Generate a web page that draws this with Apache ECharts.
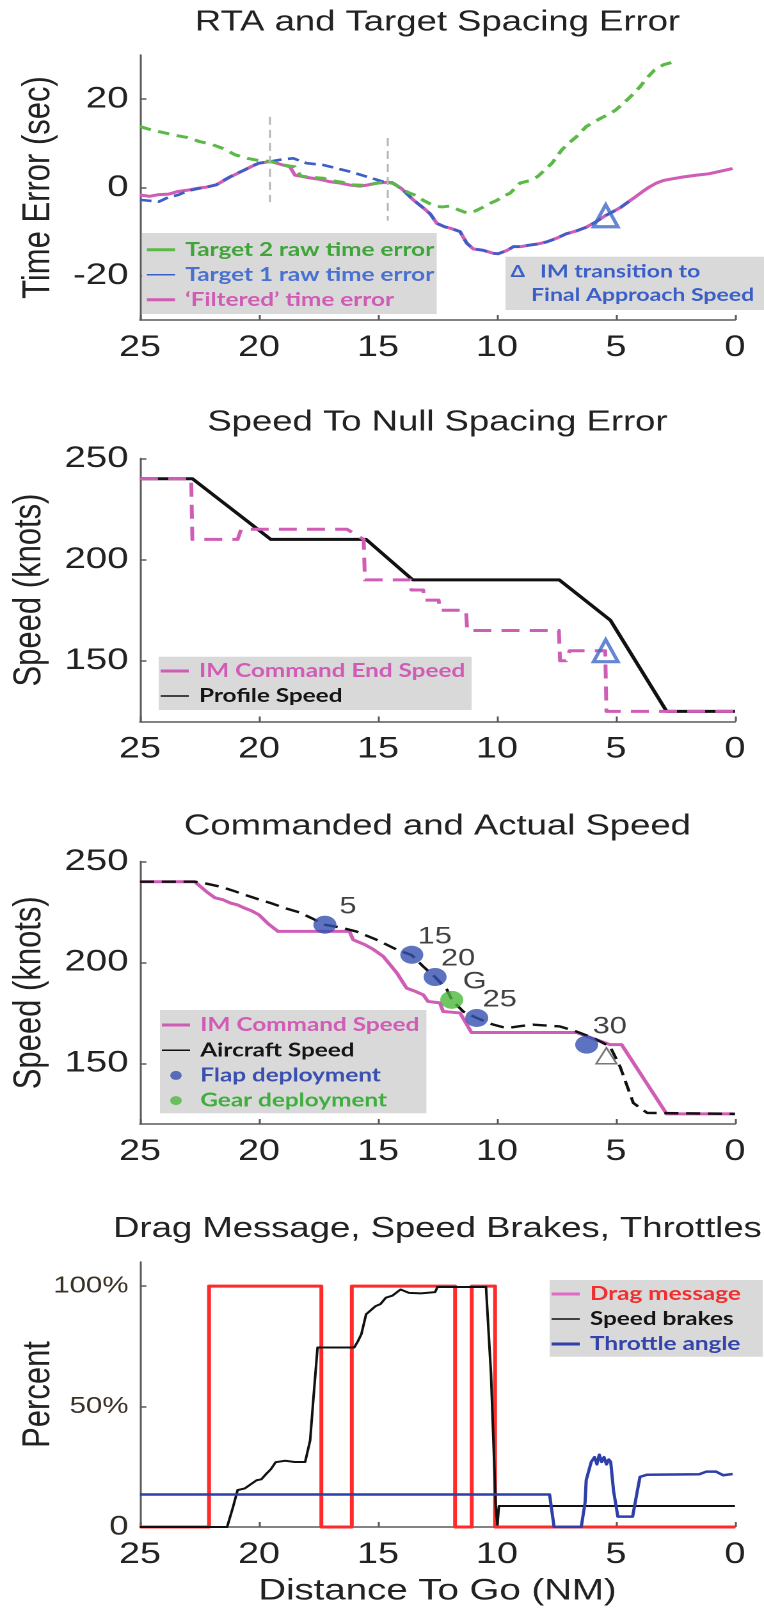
<!DOCTYPE html>
<html>
<head>
<meta charset="utf-8">
<script src="https://cdn.jsdelivr.net/npm/echarts@6/dist/echarts.min.js"></script>
<style>
html, body { margin: 0; padding: 0; background: #fff; overflow: hidden; }
#frame { width: 764px; height: 1613px; overflow: hidden; }
/* the figure is laid out narrow and widened horizontally, like the original exported plot */
#chart { width: 597px; height: 1613px; transform: scaleX(1.2797); transform-origin: 0 0; }
</style>
</head>
<body>
<div id="frame"><div id="chart"></div></div>
<script>
// ---------- data: [distance to go (NM), value] ----------
const distanceTicks = [0, 5, 10, 15, 20, 25];

// Panel 1: RTA and target spacing error (sec)
const target2RawError = [
  [25,13.8],[24.5,13.0],[24.0,12.4],[23.5,11.8],[23.0,11.3],[22.5,10.4],[22.0,9.8],[21.5,8.8],
  [21.0,7.4],[20.5,6.6],[20.0,6.1],[19.5,5.9],[19.0,5.1],[18.5,4.7],[18.25,2.6],[17.8,2.3],
  [17.3,2.1],[16.9,1.5],[16.5,1.2],[16.2,0.6],[15.6,0.5],[15.2,0.8],[14.9,1.1],[14.6,1.2],
  [14.3,0.8],[14.0,-0.4],[13.7,-1.2],[13.4,-1.8],[13.1,-2.9],[12.8,-3.7],[12.5,-4.3],[12.3,-4.4],
  [12.0,-4.2],[11.8,-4.6],[11.6,-5.1],[11.4,-5.5],[11.2,-5.8],[10.9,-5.3],[10.6,-4.5],[10.3,-3.6],
  [10.0,-2.9],[9.75,-2.0],[9.45,-1.3],[9.03,1.0],[8.6,1.6],[8.3,2.45],[8.0,3.9],[7.69,5.5],
  [7.28,8.5],[6.95,10.2],[6.66,11.5],[6.25,13.8],[5.9,14.9],[5.63,15.7],[5.3,16.6],[5.02,17.5],
  [4.7,19.0],[4.4,20.5],[3.99,22.8],[3.7,24.8],[3.38,26.6],[3.0,27.8],[2.66,28.3]
];
const target1RawError = [
  [25,-2.8],[24.6,-3.0],[24.2,-3.2],[23.8,-2.2],[23.4,-1.7],[23.0,-0.8],[22.6,-0.3],[22.2,0.1],
  [21.8,0.6],[21.5,1.6],[21.2,2.5],[20.9,3.3],[20.6,4.0],[20.3,4.9],[20.0,5.5],[19.5,5.9],
  [19.0,6.4],[18.56,6.6],[18.0,5.5],[17.3,5.1],[16.74,4.35],[16.18,3.6],[15.47,2.45],[14.78,1.3],
  [14.4,1.0],[14.0,-0.3],[13.52,-2.8],[13.1,-4.6],[12.8,-6.0],[12.53,-8.1],[12.2,-8.9],[11.97,-9.2],
  [11.55,-10.0],[11.4,-11.4],[11.27,-12.6],[11.0,-13.9],[10.6,-14.2],[10.15,-14.9],[9.95,-15.0],
  [9.6,-14.3],[9.31,-13.4],[9.0,-13.4],[8.7,-13.1],[8.3,-12.8],[7.9,-12.3],[7.5,-11.5],[7.1,-10.5],
  [6.7,-9.9],[6.25,-9.0],[5.85,-7.8],[5.45,-6.4],[5.1,-5.4],[4.8,-4.5],[4.4,-3.0]
];
const filteredError = [
  [25,-1.7],[24.6,-2.0],[24.2,-1.6],[23.8,-1.5],[23.4,-0.9],[23.0,-0.6],[22.6,-0.2],[22.2,0.1],
  [21.8,0.6],[21.5,1.5],[21.2,2.4],[20.9,3.2],[20.6,4.0],[20.3,4.8],[20.0,5.5],[19.5,5.9],
  [19.0,5.1],[18.7,4.7],[18.49,2.8],[18.0,2.3],[17.5,1.9],[17.0,1.3],[16.6,1.0],[16.18,0.55],
  [15.76,0.3],[15.4,0.6],[15.06,1.0],[14.6,1.2],[14.4,1.1],[14.0,-0.3],[13.52,-2.8],[13.1,-4.6],
  [12.8,-6.0],[12.53,-8.1],[12.2,-8.9],[11.97,-9.2],[11.55,-10.0],[11.4,-11.4],[11.27,-12.6],
  [11.0,-13.9],[10.6,-14.2],[10.15,-14.9],[9.95,-15.0],[9.6,-14.3],[9.31,-13.4],[9.0,-13.4],
  [8.7,-13.1],[8.3,-12.8],[7.9,-12.3],[7.5,-11.5],[7.1,-10.5],[6.7,-9.9],[6.25,-9.0],[5.85,-7.8],
  [5.45,-6.4],[5.1,-5.4],[4.8,-4.5],[4.5,-3.3],[4.2,-2.2],[3.9,-1.0],[3.6,0.1],[3.3,1.0],
  [3.0,1.6],[2.6,2.0],[2.15,2.4],[1.6,2.8],[1.1,3.1],[0.6,3.7],[0.1,4.3]
];
const targetSwitchMarks = [[19.55, 16, -3.3], [14.6, 11.2, -7.5]]; // [distance, top, bottom]
const finalApproachPoint1 = [[5.43, -6.4]];

// Panel 2: speed to null spacing error (knots)
const commandEndSpeed = [
  [25,240],[22.85,240],[22.8,210],[20.9,210],[20.75,215],[16.3,215],[15.6,210],[15.55,190],
  [13.65,190],[13.6,185],[13.1,185],[13.05,180],[12.45,180],[12.4,175],[11.3,175],[11.25,165],
  [7.4,165],[7.35,150],[7.1,150],[6.95,155],[5.45,155],[5.4,125],[0,125]
];
const profileSpeed = [
  [25,240],[22.8,240],[19.5,210],[15.5,210],[13.54,190],[7.38,190],[5.23,170],[2.87,125],[0,125]
];
const finalApproachPoint2 = [[5.43, 155]];

// Panel 3: commanded and actual speed (knots)
const commandSpeed = [
  [25,240],[22.7,240],[22.4,237],[22.2,235],[21.85,232],[21.5,231],[21.2,229.4],[20.9,228.5],
  [20.6,226.9],[20.3,225.5],[20.0,223.6],[19.6,219],[19.2,215.4],[16.2,215.4],[16.04,211.2],
  [15.55,208.8],[15.2,206.5],[14.78,203],[14.5,199],[14.2,194.7],[13.8,187.3],[13.5,186],
  [13.1,184],[12.9,180.7],[12.4,180],[12.26,175.7],[11.55,175],[11.07,165.3],[6.66,165.3],
  [5.25,159.3],[4.76,159.3],[2.87,125],[0,125]
];
const aircraftSpeed = [
  [25,240],[22.7,240],[22.2,239],[21.65,237.6],[21.1,235.6],[20.6,233.5],[20.0,231.2],[19.5,229.4],
  [18.9,226.9],[18.3,224.8],[17.8,222],[17.24,218.7],[16.46,217],[15.9,215.3],[15.05,211.2],
  [14.2,206.3],[13.58,203.6],[13.1,198],[12.6,192.8],[12.1,186.5],[11.9,181.5],[11.42,175.7],
  [10.85,172.5],[10.15,169.2],[9.6,167.5],[9.0,168.5],[8.47,169.2],[7.35,168.3],[6.66,165.8],
  [5.96,162.6],[5.25,158.4],[4.83,148.5],[4.27,130.4],[3.69,125.5],[0,125]
];
const flapNames = ['5', '15', '20', '25', '30'];
const flapDistance = [17.23, 13.58, 12.6, 10.85, 6.23];
const flapSpeed = [218.7, 203.8, 192.8, 172.5, 159.3];
const gearName = 'G';
const gearPoint = [11.9, 181.5];
const finalApproachPoint3 = [[5.4, 153.8]];

// Panel 4: drag message, speed brakes, throttles (percent)
const dragMessage = [
  [25,0],[22.1,0],[22.1,100],[17.38,100],[17.38,0],[16.1,0],[16.1,100],[11.76,100],[11.76,0],
  [11.06,0],[11.06,100],[10.08,100],[10.08,0],[0,0]
];
const speedBrakes = [
  [25,0],[21.34,0],[21.1,8],[20.9,15.3],[20.6,16],[20.4,17.4],[20.1,19.4],[19.9,19.8],[19.7,22],
  [19.5,24],[19.3,26.9],[18.9,27.5],[18.5,27],[18.06,27],[17.85,36],[17.7,55],[17.54,74.5],
  [16.0,74.5],[15.85,77],[15.7,80],[15.5,88.3],[15.3,90],[15.1,91.7],[14.9,92.5],[14.67,95.2],
  [14.4,96],[14.05,98.6],[13.7,97.2],[13.2,97],[12.6,97.5],[12.5,99.6],[10.46,99.6],[10.25,63.5],
  [10.05,8.4],[9.98,1],[9.92,8.7],[0,8.7]
];
const throttleAngle = [
  [25,13.5],[7.79,13.5],[7.6,0],[6.46,0],[6.3,10],[6.25,19.5],[6.04,27],[5.95,27.8],[5.9,29],
  [5.8,26],[5.7,30],[5.6,27],[5.5,29],[5.4,26],[5.3,28],[5.22,27],[5.1,15],[4.92,4.3],[4.3,4.3],
  [4.1,15],[3.99,20.8],[3.69,21.7],[1.5,21.9],[1.2,23],[0.8,23],[0.5,21.5],[0.1,22]
];

// ---------- styling helpers ----------
const AXIS_FONT = "'Liberation Sans', Arial, sans-serif";
const LEGEND_FONT = "Lato, 'DejaVu Sans', sans-serif";
const PINK = '#cf5db6', GREEN = '#5cb947', BLUE = '#3a5fc6', RED = '#ff2a2a';
const gridTops = [55, 458.5, 861.5, 1262];
const gridHeights = [265, 263, 262.5, 265];
const plotLeft = 109.4, plotRight = 22.7;
const plotCenter = plotLeft + (597 - plotLeft - plotRight) / 2;

const axisLineStyle = { show: true, onZero: false, lineStyle: { color: '#5a5a5a', width: 1.5 } };
const axisTickStyle = { show: true, inside: true, length: 5, lineStyle: { color: '#5a5a5a', width: 1.5 } };

function xAxisFor(i, extra) {
  return Object.assign({
    type: 'value', gridIndex: i, inverse: true, min: 0, max: 25, interval: 5, position: 'bottom',
    axisLine: axisLineStyle,
    axisTick: Object.assign({ customValues: distanceTicks }, axisTickStyle),
    axisLabel: { customValues: distanceTicks, fontSize: 29.5, color: '#222', margin: 13, fontFamily: AXIS_FONT },
    splitLine: { show: false }
  }, extra || {});
}
function yAxisFor(i, min, max, ticks, name, gap, labelExtra) {
  return {
    type: 'value', gridIndex: i, min: min, max: max, name: name, position: 'left',
    nameLocation: 'middle', nameGap: gap, nameMoveOverlap: false,
    nameTextStyle: { fontSize: 31, color: '#222', fontFamily: AXIS_FONT },
    axisLine: axisLineStyle,
    axisTick: Object.assign({ customValues: ticks }, axisTickStyle),
    axisLabel: Object.assign({ customValues: ticks, fontSize: 30, color: '#222', margin: 9, fontFamily: AXIS_FONT }, labelExtra || {}),
    splitLine: { show: false }
  };
}
function lineSeries(name, i, data, color, width, dash, z) {
  return {
    type: 'line', name: name, xAxisIndex: i, yAxisIndex: i, data: data,
    symbol: 'none', smooth: false, z: z || 2, silent: true,
    lineStyle: { color: color, width: width, type: dash || 'solid', cap: 'butt', join: 'round' },
    itemStyle: { color: color }
  };
}
// a legend entry drawn as a plain solid stroke
function lineEntry(name, textColor, lineColor, width) {
  return {
    name: name, textStyle: { color: textColor },
    lineStyle: { type: 'solid', width: width, color: lineColor },
    itemStyle: { opacity: 0 }
  };
}
function legendFor(left, top, padding, items, extra) {
  return Object.assign({
    left: left, top: top, orient: 'vertical', backgroundColor: '#d9d9d9', borderRadius: 0,
    padding: padding, itemGap: 5, itemWidth: 22, itemHeight: 12, selectedMode: false,
    textStyle: { fontFamily: LEGEND_FONT, fontWeight: 'bold', fontSize: 19, lineHeight: 20, padding: [0, 0, 0, 3] },
    data: items
  }, extra || {});
}
function titleFor(text, top) {
  return {
    text: text, left: plotCenter, top: top, textAlign: 'center', padding: 0,
    textStyle: { fontFamily: AXIS_FONT, fontSize: 28.5, fontWeight: 'normal', color: '#222' }
  };
}
const triangleMarker = (color, size, width) => ({
  symbol: 'triangle', symbolSize: size,
  itemStyle: { color: 'rgba(0,0,0,0)', borderColor: color, borderWidth: width }
});

const flapPoints = flapNames.map((n, k) => ({ name: n, value: [flapDistance[k], flapSpeed[k]] }));
const pointLabel = {
  show: true, formatter: '{b}', position: 'inside', offset: [18, -18],
  fontFamily: AXIS_FONT, fontSize: 24, color: '#111'
};

const option = {
  animation: false,
  backgroundColor: '#fff',
  title: [
    titleFor('RTA and Target Spacing Error', 8),
    titleFor('Speed To Null Spacing Error', 408),
    titleFor('Commanded and Actual Speed', 812),
    titleFor('Drag Message, Speed Brakes, Throttles', 1214.5)
  ],
  grid: gridTops.map((t, i) => ({
    left: plotLeft, right: plotRight, top: t, height: gridHeights[i],
    containLabel: false, outerBoundsMode: 'none'
  })),
  xAxis: [
    xAxisFor(0), xAxisFor(1), xAxisFor(2),
    xAxisFor(3, {
      name: 'Distance To Go (NM)', nameLocation: 'middle', nameGap: 49, nameMoveOverlap: false,
      nameTextStyle: { fontSize: 30, color: '#222', fontFamily: AXIS_FONT }
    })
  ],
  yAxis: [
    yAxisFor(0, -30, 30, [-20, 0, 20], 'Time Error (sec)', 64),
    yAxisFor(1, 120, 250, [150, 200, 250], 'Speed (knots)', 71),
    yAxisFor(2, 120, 250, [150, 200, 250], 'Speed (knots)', 71),
    yAxisFor(3, 0, 110, [0, 50, 100], 'Percent', 64, {
      formatter: v => v === 0 ? '{z|0}' : '{p|' + v + '%}',
      rich: {
        z: { fontSize: 27, color: '#2e2a24', fontFamily: AXIS_FONT },
        p: { fontSize: 23, color: '#3a3124', fontFamily: AXIS_FONT }
      }
    })
  ],
  legend: [
    legendFor(111, 233, [6.7, 2, 4.3, 2.3], [
      lineEntry('Target 2 raw time error', '#3fa53a', GREEN, 3),
      lineEntry('Target 1 raw time error', '#4a70d0', BLUE, 1.5),
      lineEntry('‘Filtered’ time error', '#d05cb5', PINK, 3)
    ]),
    legendFor(124, 656.7, [4.3, 5, 4, 0], [
      lineEntry('IM Command End Speed', '#d05cb5', PINK, 3),
      lineEntry('Profile Speed', '#151515', '#111', 1.5)
    ]),
    legendFor(125, 1010, [5, 5.5, 2.6, 0], [
      lineEntry('IM Command Speed', '#d05cb5', PINK, 3),
      lineEntry('Aircraft Speed', '#151515', '#111', 1.5),
      { name: 'Flap deployment', icon: 'circle', textStyle: { color: '#3a4fb0' } },
      { name: 'Gear deployment', icon: 'circle', textStyle: { color: '#3fae3f' } }
    ], { itemGap: 5.2, itemHeight: 9 }),
    legendFor(429.5, 1280, [4, 17, 2.7, 0], [
      lineEntry('Drag message', '#f03030', '#e06ac4', 3),
      lineEntry('Speed brakes', '#151515', '#111', 1.5),
      lineEntry('Throttle angle', '#3344aa', '#2f3fa8', 3)
    ])
  ],
  graphic: [{
    type: 'group', left: 395, top: 256.7,
    children: [
      { type: 'rect', shape: { x: 0, y: 0, width: 202, height: 53.3 }, style: { fill: '#d9d9d9' } },
      { type: 'text', x: 4, y: 15, style: { text: 'Δ', fill: '#3a5fc8', font: 'bold 16px ' + LEGEND_FONT, verticalAlign: 'middle' } },
      { type: 'text', x: 27, y: 15, style: { text: 'IM transition to', fill: '#3a5fc8', font: 'bold 18px ' + LEGEND_FONT, verticalAlign: 'middle' } },
      { type: 'text', x: 20, y: 38.3, style: { text: 'Final Approach Speed', fill: '#3a5fc8', font: 'bold 18px ' + LEGEND_FONT, verticalAlign: 'middle' } }
    ]
  }],
  series: [
    // panel 1
    Object.assign(lineSeries('‘Filtered’ time error', 0, filteredError, PINK, 3, 'solid', 2), {
      markLine: {
        silent: true, symbol: 'none', label: { show: false },
        lineStyle: { color: '#b5b5b5', width: 1.5, type: [8, 5] },
        data: targetSwitchMarks.map(m => [{ coord: [m[0], m[1]] }, { coord: [m[0], m[2]] }])
      }
    }),
    lineSeries('Target 1 raw time error', 0, target1RawError, BLUE, 2.6, [9, 5], 3),
    lineSeries('Target 2 raw time error', 0, target2RawError, GREEN, 3, [9, 6], 4),
    Object.assign({ type: 'scatter', name: 'IM transition', xAxisIndex: 0, yAxisIndex: 0, data: finalApproachPoint1, z: 6 },
      triangleMarker('#3d68c8', [19, 22], 3)),
    // panel 2
    lineSeries('Profile Speed', 1, profileSpeed, '#111', 3, 'solid', 2),
    lineSeries('IM Command End Speed', 1, commandEndSpeed, PINK, 3, [14, 8], 3),
    Object.assign({ type: 'scatter', name: 'IM transition 2', xAxisIndex: 1, yAxisIndex: 1, data: finalApproachPoint2, z: 6 },
      triangleMarker('#3d68c8', [19, 22], 3)),
    // panel 3
    lineSeries('IM Command Speed', 2, commandSpeed, PINK, 3, 'solid', 2),
    lineSeries('Aircraft Speed', 2, aircraftSpeed, '#111', 2.4, [11, 6], 3),
    Object.assign({ type: 'scatter', name: 'IM transition 3', xAxisIndex: 2, yAxisIndex: 2, data: finalApproachPoint3, z: 4 },
      triangleMarker('#555', [16, 16], 1.5)),
    {
      type: 'scatter', name: 'Flap deployment', xAxisIndex: 2, yAxisIndex: 2, data: flapPoints,
      symbol: 'circle', symbolSize: 18, z: 5, itemStyle: { color: '#3550b0' }, label: pointLabel
    },
    {
      type: 'scatter', name: 'Gear deployment', xAxisIndex: 2, yAxisIndex: 2,
      data: [{ name: gearName, value: gearPoint }],
      symbol: 'circle', symbolSize: 18, z: 5, itemStyle: { color: '#4cb83c' }, label: pointLabel
    },
    // panel 4
    lineSeries('Drag message', 3, dragMessage, RED, 3, 'solid', 2),
    lineSeries('Speed brakes', 3, speedBrakes, '#111', 2, 'solid', 3),
    lineSeries('Throttle angle', 3, throttleAngle, '#2f3fa8', 2.5, 'solid', 4)
  ]
};

const chart = echarts.init(document.getElementById('chart'), null, { renderer: 'canvas', devicePixelRatio: 2 });
chart.setOption(option);
</script>
</body>
</html>
